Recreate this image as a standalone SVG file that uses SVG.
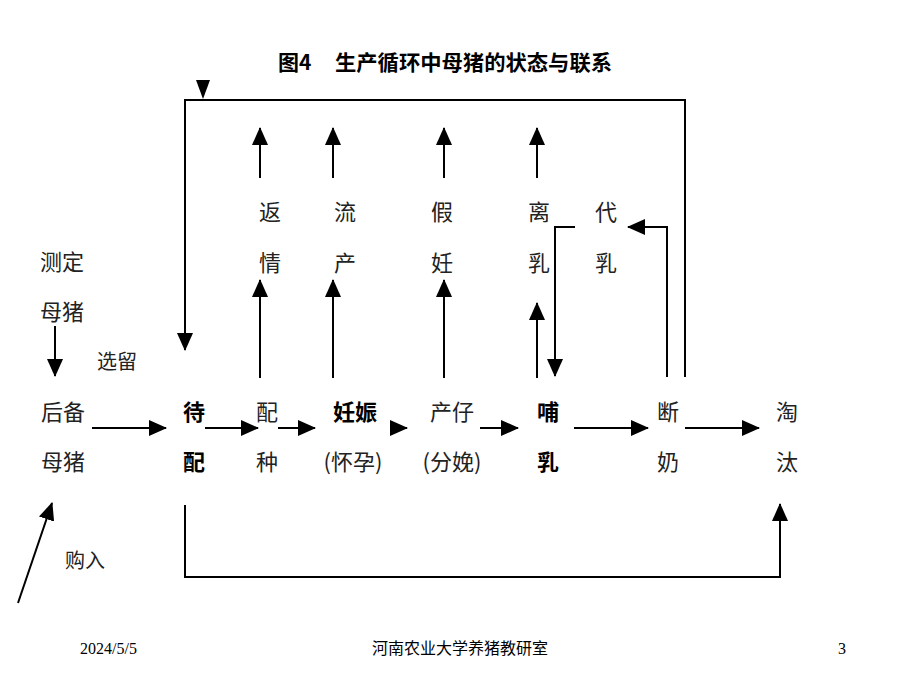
<svg xmlns="http://www.w3.org/2000/svg" width="920" height="690" viewBox="0 0 920 690">
<style>
.t{font-family:"Noto Sans CJK SC","Noto Sans",sans-serif;font-size:22px;fill:#222;text-anchor:middle}
.b{font-weight:bold;fill:#000}
.s{font-size:20px}
.f{font-family:"Liberation Serif","Noto Sans CJK SC",serif;font-size:16px;fill:#000}
.c{fill:none;stroke:#000;stroke-width:2}
</style>
<defs>
<marker id="ah" markerUnits="userSpaceOnUse" markerWidth="18" markerHeight="16" refX="17" refY="8" orient="auto">
<path d="M0,0 L18,8 L0,16 Z" fill="#000"/>
</marker>
</defs>
<g id="title">
<text x="278" y="70" class="t b" style="text-anchor:start;font-size:21px">图4</text>
<text x="335" y="70" class="t b" style="text-anchor:start;font-size:21px" textLength="277" lengthAdjust="spacingAndGlyphs">生产循环中母猪的状态与联系</text>
</g>
<g id="connectors">
<path class="c" d="M685,377 V100 H185 V350" marker-end="url(#ah)"/>
<polygon points="196,80 210,80 203,99" fill="#000"/>
<path class="c" d="M260,178 V128" marker-end="url(#ah)"/>
<path class="c" d="M333,178 V128" marker-end="url(#ah)"/>
<path class="c" d="M444,178 V128" marker-end="url(#ah)"/>
<path class="c" d="M537,178 V128" marker-end="url(#ah)"/>
<path class="c" d="M260,378 V280" marker-end="url(#ah)"/>
<path class="c" d="M333,378 V280" marker-end="url(#ah)"/>
<path class="c" d="M444,378 V280" marker-end="url(#ah)"/>
<path class="c" d="M537,378 V303" marker-end="url(#ah)"/>
<path class="c" d="M575,227 H555 V376" marker-end="url(#ah)"/>
<path class="c" d="M667,377 V227 H628" marker-end="url(#ah)"/>
<path class="c" d="M55,326 V376" marker-end="url(#ah)"/>
<path class="c" d="M92,428 H166" marker-end="url(#ah)"/>
<path class="c" d="M205,428 H258" marker-end="url(#ah)"/>
<path class="c" d="M278,428 H315" marker-end="url(#ah)"/>
<path class="c" d="M390,428 H407" marker-end="url(#ah)"/>
<path class="c" d="M480,428 H518" marker-end="url(#ah)"/>
<path class="c" d="M574,428 H648" marker-end="url(#ah)"/>
<path class="c" d="M685,428 H759" marker-end="url(#ah)"/>
<path class="c" d="M185,505 V577 H780 V504" marker-end="url(#ah)"/>
<path class="c" d="M18,603 L52,503" marker-end="url(#ah)"/>
</g>
<g id="n-cding"><text x="62" y="270" class="t">测定</text><text x="62" y="320" class="t">母猪</text></g>
<g id="n-xuanliu"><text x="117" y="369" class="t s">选留</text></g>
<g id="n-houbei"><text x="63" y="420" class="t">后备</text><text x="63" y="470" class="t">母猪</text></g>
<g id="n-goumai"><text x="85" y="568" class="t s">购入</text></g>
<g id="n-daipei"><text x="194" y="420" class="t b">待</text><text x="194" y="470" class="t b">配</text></g>
<g id="n-peizhong"><text x="267" y="420" class="t">配</text><text x="267" y="470" class="t">种</text></g>
<g id="n-renshen"><text x="355" y="420" class="t b">妊娠</text><text x="353" y="470" class="t">(怀孕)</text></g>
<g id="n-chanzi"><text x="452" y="420" class="t">产仔</text><text x="452" y="470" class="t">(分娩)</text></g>
<g id="n-buru"><text x="548" y="420" class="t b">哺</text><text x="548" y="470" class="t b">乳</text></g>
<g id="n-duannai"><text x="668" y="420" class="t">断</text><text x="668" y="470" class="t">奶</text></g>
<g id="n-taotai"><text x="787" y="420" class="t">淘</text><text x="787" y="470" class="t">汰</text></g>
<g id="n-fanqing"><text x="270" y="220" class="t">返</text><text x="270" y="271" class="t">情</text></g>
<g id="n-liuchan"><text x="345" y="220" class="t">流</text><text x="345" y="271" class="t">产</text></g>
<g id="n-jiaren"><text x="442" y="220" class="t">假</text><text x="442" y="271" class="t">妊</text></g>
<g id="n-liru"><text x="539" y="220" class="t">离</text><text x="539" y="271" class="t">乳</text></g>
<g id="n-dairu"><text x="606" y="220" class="t">代</text><text x="606" y="271" class="t">乳</text></g>
<g id="footer">
<text x="80" y="654" class="f">2024/5/5</text>
<text x="460" y="654" class="f" text-anchor="middle">河南农业大学养猪教研室</text>
<text x="838" y="654" class="f">3</text>
</g>
</svg>
